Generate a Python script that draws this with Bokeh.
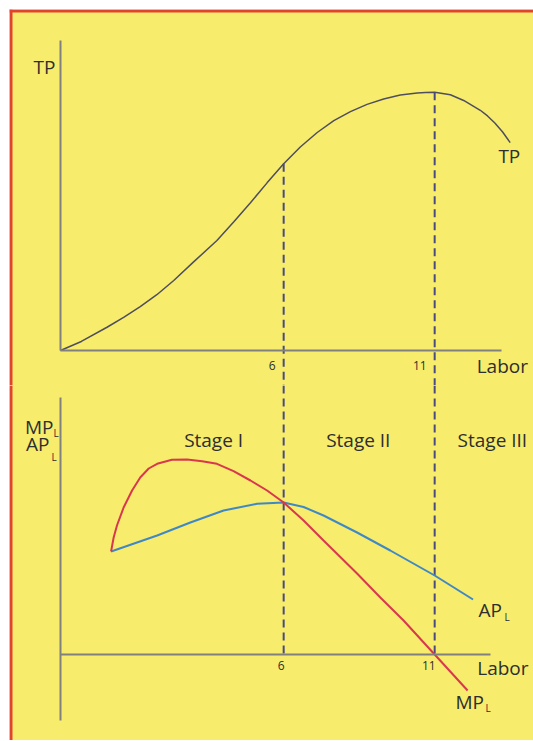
from bokeh.plotting import figure
from bokeh.layouts import column
from bokeh.models import Range1d, Label, FixedTicker, BoxAnnotation
from bokeh.embed import file_html
from bokeh.resources import INLINE

# ---------------- data ----------------
# Total product curve
tp_labor = [-1.39, -0.70, 0.15, 0.70, 1.25, 1.80, 2.36, 3.00, 3.79, 4.35, 4.90, 5.45,
            6.00, 6.55, 7.11, 7.66, 8.21, 8.76, 9.31, 9.86, 10.42, 10.70, 11.00,
            11.52, 11.96, 12.51, 12.75, 13.00, 13.25, 13.50]
tp_values = [0.0, 3.5, 9.0, 12.8, 17.0, 21.6, 27.1, 34.1, 42.6, 49.8, 57.2, 64.9,
             72.3, 78.8, 84.4, 89.0, 92.5, 95.3, 97.4, 98.9, 99.7, 99.9, 100.0,
             99.0, 96.8, 93.0, 90.8, 88.0, 84.6, 80.5]

# Marginal product of labour
mp_labor = [0.285, 0.37, 0.48, 0.70, 0.98, 1.25, 1.53, 1.81, 2.30, 2.80, 3.30, 3.79,
            4.34, 4.90, 5.45, 6.00, 6.66, 7.32, 8.43, 9.20, 9.97, 11.00, 12.09]
mp_values = [10.3, 11.7, 12.9, 14.7, 16.4, 17.7, 18.6, 19.07, 19.47, 19.5, 19.33, 19.07,
             18.33, 17.4, 16.4, 15.2, 13.4, 11.4, 8.1, 5.7, 3.4, 0.0, -3.6]

# Average product of labour
ap_labor = [0.285, 1.81, 2.91, 4.01, 5.12, 6.00, 6.66, 7.32, 8.43, 9.53, 11.00, 12.27]
ap_values = [10.3, 11.9, 13.2, 14.4, 15.07, 15.2, 14.75, 13.9, 12.2, 10.4, 7.9, 5.5]

# Stage boundaries and their tick labels
boundaries = [6, 11]
tick_labels = ["6", "11"]
stage_names = ["Stage I", "Stage II", "Stage III"]

# ---------------- styling ----------------
YELLOW = "#F7EC6C"
RED_BORDER = "#E0442C"
AXIS = "#808080"
TEXT = "#2E2E2E"
TP_COLOR = "#4E4E5E"
MP_COLOR = "#D7384E"
AP_COLOR = "#3F88C5"
DASH_COLOR = "#4A4A80"
FONT = "Open Sans"

FIG_W = 524
PX_PER_LABOR = 30.2
X_AXIS = -1.39                       # labour value where the vertical axes stand
X_START = X_AXIS - 51 / PX_PER_LABOR  # frame starts 51 px left of the axis
X_END = X_START + FIG_W / PX_PER_LABOR
TEXT_LIFT = 6   # px
STRIPE = 3      # px, red frame stripe


def base_fig(height, y_start, y_end):
    p = figure(width=FIG_W, height=height, output_backend="svg", toolbar_location=None,
               x_range=Range1d(X_START, X_END), y_range=Range1d(y_start, y_end),
               min_border_left=0, min_border_right=0, min_border_top=0,
               min_border_bottom=0, background_fill_color=YELLOW,
               border_fill_color=YELLOW, outline_line_color=None)
    p.grid.visible = False
    for ax in (p.xaxis[0], p.yaxis[0]):
        ax.ticker = FixedTicker(ticks=[])
        ax.major_label_text_font_size = "0px"
        ax.major_tick_line_color = None
        ax.minor_tick_line_color = None
        ax.axis_line_color = AXIS
        ax.axis_line_width = 2
    p.xaxis[0].fixed_location = 0
    p.yaxis[0].fixed_location = X_AXIS
    # red frame stripe along the left edge of the panel
    p.add_layout(BoxAnnotation(left=X_START, right=X_START + STRIPE / PX_PER_LABOR,
                               fill_color=RED_BORDER, fill_alpha=1.0,
                               line_color=None))
    return p


def make_labeler(p, px_per_unit):
    lift = TEXT_LIFT / px_per_unit

    def label(x, y, text, size="19px", align="left", x_offset=0):
        p.add_layout(Label(x=x, y=y + lift, text=text, text_font=FONT,
                           text_font_size=size, text_color=TEXT, text_align=align,
                           text_baseline="alphabetic", x_offset=x_offset))
    return label


# ---------------- top panel: TP ----------------
TOP_H = 376
TP_PX = 2.583
top_zero = 341  # pixels from figure top to TP = 0
p1 = base_fig(TOP_H, -(TOP_H - top_zero) / TP_PX, top_zero / TP_PX)
p1.add_layout(BoxAnnotation(bottom=p1.y_range.end - STRIPE / TP_PX,
                            top=p1.y_range.end, fill_color=RED_BORDER,
                            fill_alpha=1.0, line_color=None))
p1.xaxis[0].bounds = (X_AXIS, 13.2)
p1.yaxis[0].bounds = (0, 120)

p1.line(tp_labor, tp_values, line_color=TP_COLOR, line_width=1.5)
tp_at_bounds = [tp_values[tp_labor.index(float(b))] for b in boundaries]
p1.segment(x0=boundaries, x1=boundaries, y0=tp_at_bounds,
           y1=[p1.y_range.start] * len(boundaries), line_color=DASH_COLOR,
           line_width=2, line_dash="8 5")

lab1 = make_labeler(p1, TP_PX)
lab1(X_AXIS, 107.5, "TP", align="right", x_offset=-5)
lab1(13.11, 72.8, "TP")
lab1(12.39, -8.5, "Labor")
for b, t in zip(boundaries, tick_labels):
    lab1(b, -8.0, t, size="12px", align="right", x_offset=-8)

# ---------------- bottom panel: MP and AP ----------------
BOT_H = 355
V_PX = 10.0
bot_zero = 269
p2 = base_fig(BOT_H, -(BOT_H - bot_zero) / V_PX, bot_zero / V_PX)
p2.xaxis[0].bounds = (X_AXIS, 12.84)
p2.yaxis[0].bounds = (-6.6, 25.7)

p2.segment(x0=boundaries, x1=boundaries, y0=[p2.y_range.end] * len(boundaries),
           y1=[0] * len(boundaries), line_color=DASH_COLOR, line_width=2,
           line_dash="8 5")
p2.line(ap_labor, ap_values, line_color=AP_COLOR, line_width=2)
p2.line(mp_labor, mp_values, line_color=MP_COLOR, line_width=2)

lab2 = make_labeler(p2, V_PX)
# axis title MP_L / AP_L
lab2(X_AXIS, 22.2, "MP", align="right", x_offset=-7)
lab2(X_AXIS, 21.6, "L", size="10px", x_offset=-7)
lab2(X_AXIS, 20.5, "AP", align="right", x_offset=-11)
lab2(X_AXIS, 19.2, "L", size="10px", x_offset=-9)

for name, xc in zip(stage_names, [3.68, 8.47, 12.91]):
    lab2(xc, 20.9, name, align="center")

for b, t in zip(boundaries, tick_labels):
    lab2(b, -1.7, t, size="12px", align="right", x_offset=1)
lab2(12.41, -1.9, "Labor")
lab2(12.45, 3.9, "AP")
lab2(13.31, 3.2, "L", size="10px")
lab2(11.69, -5.3, "MP")
lab2(12.68, -5.9, "L", size="10px")

layout = column(p1, p2, spacing=0,
                styles={"margin-left": "9px", "margin-top": "9px",
                        "background-color": YELLOW})

open("out.html", "w").write(file_html(layout, INLINE))
